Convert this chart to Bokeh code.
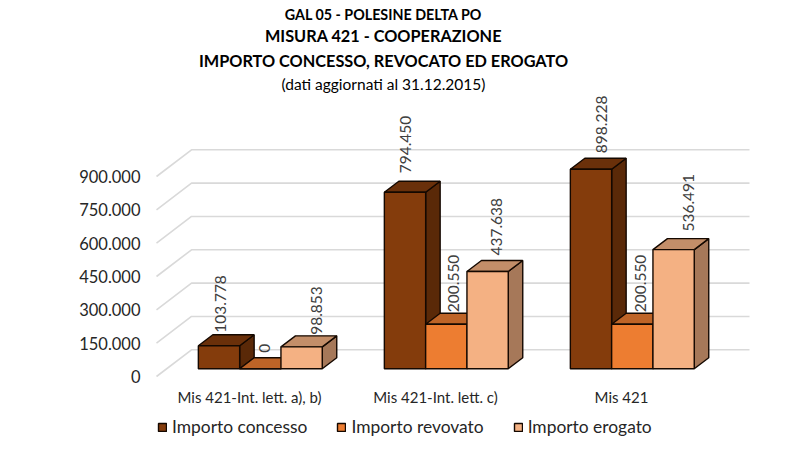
from bokeh.plotting import figure
from bokeh.models import Range1d, FixedTicker, Legend, LegendItem
from bokeh.core.properties import value
from bokeh.embed import file_html
from bokeh.resources import INLINE
import math

categories = ["Mis 421-Int. lett. a), b)", "Mis 421-Int. lett. c)", "Mis 421"]
series_names = ["Importo concesso", "Importo revovato", "Importo erogato"]
concesso = [103778, 794450, 898228]
revocato = [0, 200550, 200550]
erogato = [98853, 437638, 536491]
y_ticks = [0, 150000, 300000, 450000, 600000, 750000, 900000]
titles = ["GAL 05 - POLESINE DELTA PO", "MISURA 421 - COOPERAZIONE",
          "IMPORTO CONCESSO, REVOCATO ED EROGATO", "(dati aggiornati al 31.12.2015)"]

front = ["#843C0C", "#ED7D31", "#F4B183"]
top_c = ["#6A300A", "#BE6427", "#C38E69"]
side = ["#5A2908", "#A25522", "#A67859"]
FONT = "Lato"

# scale: one category = 186 px, 4500 units per px
PX = 1 / 186.0
VP = 4500.0
x0_px, y0_px = 249, 376
L, R, T, B = 150, 795, 0, 441
p = figure(width=795, height=441, output_backend="svg", toolbar_location=None,
           x_range=Range1d((L - x0_px) * PX, (R - x0_px) * PX),
           y_range=Range1d((y0_px - B) * VP, (y0_px - T) * VP),
           min_border_left=L, min_border_right=0, min_border_top=0, min_border_bottom=0,
           frame_width=R - L, frame_height=B - T,
           background_fill_color="white", border_fill_color="white", outline_line_color=None)
p.grid.visible = False

def X(px):
    return px * PX
def Y(px):
    return px * VP

# 3D gridlines
wall_dx, wall_dy = X(35), Y(26.7)
xs, ys = [], []
for v in y_ticks:
    xs.append([-0.5, -0.5 + wall_dx, 2.5 + wall_dx])
    ys.append([v, v + wall_dy, v + wall_dy])
p.multi_line(xs, ys, line_color="#D9D9D9", line_width=1.6)

# bars
depth_dx, depth_dy = X(14.5), Y(11)
bar_w = X(41.3)
shift_x, shift_y = X(10.8), Y(7.7)
renderers = []
all_vals = [concesso, revocato, erogato]
for s, vals in enumerate(all_vals):
    lefts = [g + shift_x + (s - 1.5) * bar_w for g in range(3)]
    rights = [l + bar_w for l in lefts]
    tops = [v + shift_y for v in vals]
    side_xs = [[r, r + depth_dx, r + depth_dx, r] for r in rights]
    side_ys = [[shift_y, shift_y + depth_dy, t + depth_dy, t] for t in tops]
    top_xs = [[l, r, r + depth_dx, l + depth_dx] for l, r in zip(lefts, rights)]
    top_ys = [[t, t, t + depth_dy, t + depth_dy] for t in tops]
    p.patches(side_xs, side_ys, fill_color=side[s], line_color="#140800", line_width=1.4)
    p.patches(top_xs, top_ys, fill_color=top_c[s], line_color="#140800", line_width=1.4)
    r = p.quad(left=lefts, right=rights, bottom=[shift_y] * 3, top=tops,
               fill_color=front[s], line_color="#140800", line_width=1.4)
    renderers.append(r)

# data labels: px offsets from bar centre and back top edge
label_off = [[(1.5, 2), (0, 8), (10, 5)],
             [(4, 5), (7.5, 1), (8, 1)],
             [(15, 1), (9, 5), (15, 7)]]
for s, vals in enumerate(all_vals):
    for g, v in enumerate(vals):
        cx = g + shift_x + (s - 1) * bar_w
        ox, oy = label_off[s][g]
        txt = f"{v:,}".replace(",", ".")
        p.text([cx + X(ox)], [v + shift_y + depth_dy + Y(oy)], text=[txt], angle=math.pi / 2,
               text_align="left", text_baseline="middle", text_font=value(FONT),
               text_font_size="15.5px", text_color="#404040")

# titles
title_sizes = ["14.3px", "16.3px", "16.3px", "15.5px"]
title_styles = ["bold", "bold", "bold", "normal"]
title_px = [14, 35, 60, 83]
for t, sz, st, py in zip(titles, title_sizes, title_styles, title_px):
    p.text([(383 - x0_px) * PX], [(y0_px - py) * VP], text=[t], text_align="center",
           text_baseline="middle", text_font=value(FONT), text_font_size=sz,
           text_font_style=st, text_color="#000000")

# axes
p.yaxis.ticker = FixedTicker(ticks=y_ticks)
p.yaxis.major_label_overrides = {v: f"{v:,}".replace(",", ".") for v in y_ticks}
p.yaxis.axis_line_color = None
p.yaxis.major_tick_line_color = None
p.yaxis.minor_tick_line_color = None
p.yaxis.major_label_text_font = FONT
p.yaxis.major_label_text_font_size = "16.5px"
p.yaxis.major_label_text_color = "#262626"
p.yaxis.major_label_standoff = 4

p.xaxis.fixed_location = Y(1)
p.xaxis.ticker = FixedTicker(ticks=[0, 1, 2])
p.xaxis.major_label_overrides = {i: c for i, c in enumerate(categories)}
p.xaxis.axis_line_color = None
p.xaxis.major_tick_line_color = None
p.xaxis.minor_tick_line_color = None
p.xaxis.major_label_text_font = FONT
p.xaxis.major_label_text_font_size = "15px"
p.xaxis.major_label_text_color = "#262626"
p.xaxis.major_label_standoff = 6

legend = Legend(items=[LegendItem(label=n, renderers=[r]) for n, r in zip(series_names, renderers)],
                orientation="horizontal", location=(7, 4), border_line_color=None,
                background_fill_alpha=0, glyph_width=10, glyph_height=10, label_standoff=5,
                spacing=29, margin=0, padding=0, click_policy="none",
                label_text_font=FONT, label_text_font_size="17.4px", label_text_color="#262626")
p.add_layout(legend, "center")

open("out.html", "w").write(file_html(p, INLINE))
